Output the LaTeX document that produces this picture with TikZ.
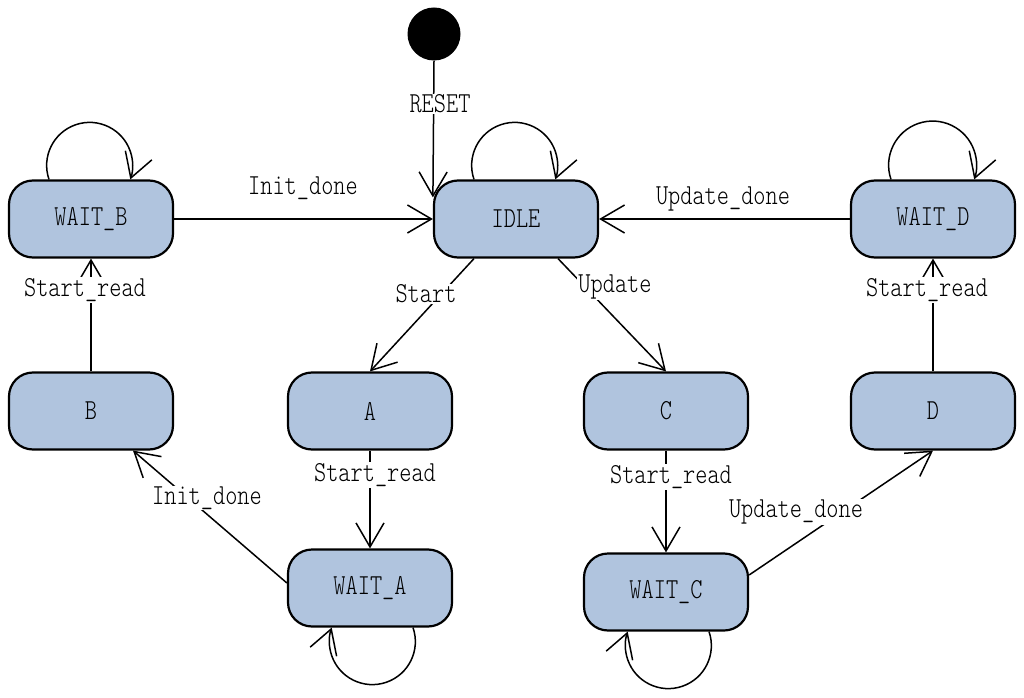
\documentclass[tikz,border=0pt]{standalone}
\usepackage{fontspec}
\newfontfamily\lblfont{lmmonolt10-regular.otf}[FakeStretch=0.8]
\usetikzlibrary{arrows.meta}
\definecolor{boxfill}{HTML}{B0C4DE}
\tikzset{
  state/.style={draw=black, line width=2.2pt, fill=boxfill, rounded corners=24pt,
    minimum width=164pt, minimum height=77pt, inner sep=0pt, font=\lblfont\fontsize{29}{31}\selectfont, text=black},
  lbl/.style={font=\lblfont\fontsize{29}{31}\selectfont, inner sep=1pt, text=black},
  lblw/.style={lbl, fill=white},
  arr/.style={line width=1.5pt, -{Straight Barb[length=24pt,width=28pt,line width=1.5pt]}},
}
\begin{document}
\begin{tikzpicture}[x=1pt,y=1pt]
\useasboundingbox (0,0) rectangle (1024,697);
\node[circle, fill=black, minimum size=53pt, inner sep=0pt] (init) at (434,663) {};
\node[state] (IDLE) at (516,478) {IDLE};
\node[state] (WB) at (91,478) {WAIT\_B};
\node[state] (WD) at (933,478) {WAIT\_D};
\node[state] (B) at (91,286) {B};
\node[state] (A) at (370,286) {A};
\node[state] (C) at (666,286) {C};
\node[state] (D) at (933,286) {D};
\node[state] (WA) at (370,109) {WAIT\_A};
\node[state] (WC) at (666,105) {WAIT\_C};

% self loops
\draw[arr] ([xshift=-42pt]WB.north) arc[start angle=199,end angle=-19,radius=43pt];
\draw[arr] ([xshift=-42pt]IDLE.north) arc[start angle=199,end angle=-19,radius=43pt];
\draw[arr] ([xshift=-42pt]WD.north) arc[start angle=199,end angle=-19,radius=44pt];
\draw[arr] ([xshift=43pt]WA.south) arc[start angle=19,end angle=-199,radius=43pt];
\draw[arr] ([xshift=43pt]WC.south) arc[start angle=19,end angle=-199,radius=43pt];

% transitions
\draw[arr] (init.south) -- ([yshift=-18pt]IDLE.north west);
\draw[arr] (WB.east) -- (IDLE.west);
\draw[arr] (WD.west) -- (IDLE.east);
\draw[arr] ([xshift=-42pt]IDLE.south) -- (A.north);
\draw[arr] ([xshift=42pt]IDLE.south) -- (C.north);
\draw[arr] (A.south) -- (WA.north);
\draw[arr] (C.south) -- (WC.north);
\draw[arr] ([yshift=5pt]WA.west) -- ([xshift=42pt]B.south);
\draw[arr] ([yshift=17pt]WC.east) -- (D.south);
\draw[arr] (B.north) -- (WB.south);
\draw[arr] (D.north) -- (WD.south);

% labels
\node[lblw] (l1) at (440,593) {RESET};
\node[lbl] (l2) at (303,509) {Init\_done};
\node[lbl] (l3) at (723,498) {Update\_done};
\node[lblw] (l4) at (426,403) {Start};
\node[lblw] (l5) at (615,410) {Update};
\node[lblw] (l6) at (375,222) {Start\_read};
\node[lblw] (l7) at (671,220) {Start\_read};
\node[lblw] (l8) at (207,199) {Init\_done};
\node[lblw] (l9) at (796,185) {Update\_done};
\node[lblw] (l10) at (85,407) {Start\_read};
\node[lblw] (l11) at (927,407) {Start\_read};
\end{tikzpicture}
\end{document}
